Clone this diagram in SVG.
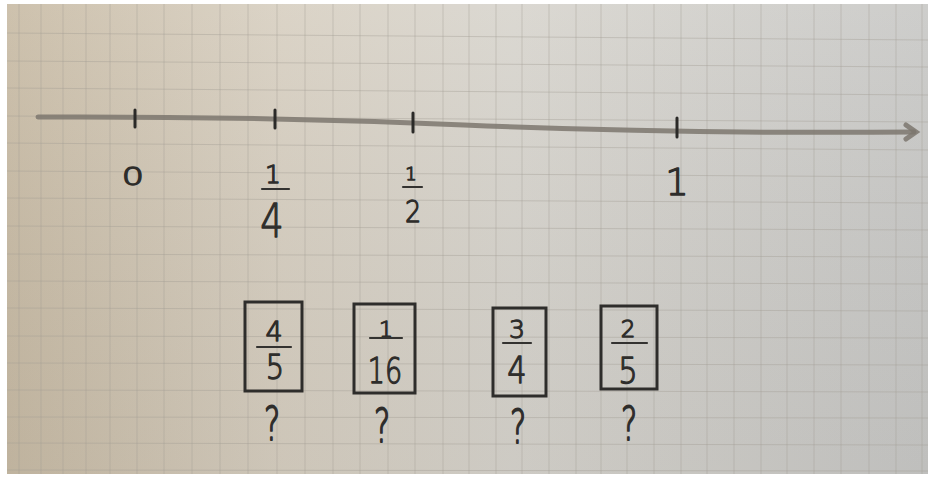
<svg xmlns="http://www.w3.org/2000/svg" width="928" height="483" viewBox="0 0 928 483">
<defs>
<linearGradient id="paper" x1="0" y1="0" x2="1" y2="0">
<stop offset="0" stop-color="#c9bca6"/>
<stop offset="0.3" stop-color="#d8d0c2"/>
<stop offset="0.55" stop-color="#d8d5ce"/>
<stop offset="1" stop-color="#c9c9c7"/>
</linearGradient>
<linearGradient id="shade" x1="0" y1="0" x2="0" y2="1">
<stop offset="0" stop-color="#ffffff" stop-opacity="0.08"/>
<stop offset="1" stop-color="#000000" stop-opacity="0.05"/>
</linearGradient>
<style>
.grid line{stroke:#a29d94;stroke-width:1;opacity:0.4}
.axis{stroke:#7d776f;stroke-width:5;fill:none;stroke-linecap:round;opacity:0.85}
.tick{stroke:#2b2a28;stroke-width:3;stroke-linecap:round}
.hw{font-family:"DejaVu Sans","Liberation Sans",sans-serif;font-weight:200;fill:#2e2d2b;stroke:#2e2d2b;stroke-width:1.3;stroke-linejoin:round;text-anchor:middle}
.bar{stroke:#333230;stroke-width:2.2;stroke-linecap:round}
.box{fill:none;stroke:#2e2d2b;stroke-width:3}
</style>
</defs>
<rect x="0" y="0" width="928" height="483" fill="#ffffff"/>
<rect x="7" y="4" width="921" height="470" fill="url(#paper)"/>
<rect x="7" y="4" width="921" height="470" fill="url(#shade)"/>
<g class="grid">
<line x1="19" y1="4" x2="19" y2="474"/>
<line x1="41" y1="4" x2="41" y2="474"/>
<line x1="63" y1="4" x2="63" y2="474"/>
<line x1="86" y1="4" x2="86" y2="474"/>
<line x1="110" y1="4" x2="110" y2="474"/>
<line x1="137" y1="4" x2="137" y2="474"/>
<line x1="164" y1="4" x2="164" y2="474"/>
<line x1="192" y1="4" x2="192" y2="474"/>
<line x1="220" y1="4" x2="220" y2="474"/>
<line x1="248" y1="4" x2="248" y2="474"/>
<line x1="277" y1="4" x2="277" y2="474"/>
<line x1="305" y1="4" x2="305" y2="474"/>
<line x1="333" y1="4" x2="333" y2="474"/>
<line x1="360" y1="4" x2="360" y2="474"/>
<line x1="388" y1="4" x2="388" y2="474"/>
<line x1="415" y1="4" x2="415" y2="474"/>
<line x1="443" y1="4" x2="443" y2="474"/>
<line x1="469" y1="4" x2="469" y2="474"/>
<line x1="496" y1="4" x2="496" y2="474"/>
<line x1="522" y1="4" x2="522" y2="474"/>
<line x1="549" y1="4" x2="549" y2="474"/>
<line x1="576" y1="4" x2="576" y2="474"/>
<line x1="601" y1="4" x2="601" y2="474"/>
<line x1="627" y1="4" x2="627" y2="474"/>
<line x1="654" y1="4" x2="654" y2="474"/>
<line x1="681" y1="4" x2="681" y2="474"/>
<line x1="707" y1="4" x2="707" y2="474"/>
<line x1="734" y1="4" x2="734" y2="474"/>
<line x1="761" y1="4" x2="761" y2="474"/>
<line x1="787" y1="4" x2="787" y2="474"/>
<line x1="814" y1="4" x2="814" y2="474"/>
<line x1="841" y1="4" x2="841" y2="474"/>
<line x1="869" y1="4" x2="869" y2="474"/>
<line x1="896" y1="4" x2="896" y2="474"/>
<line x1="922" y1="4" x2="922" y2="474"/>
<line x1="7" y1="33" x2="928" y2="40"/>
<line x1="7" y1="61" x2="928" y2="67"/>
<line x1="7" y1="88" x2="928" y2="95"/>
<line x1="7" y1="116" x2="928" y2="122"/>
<line x1="7" y1="143" x2="928" y2="150"/>
<line x1="7" y1="171" x2="928" y2="177"/>
<line x1="7" y1="198" x2="928" y2="203"/>
<line x1="7" y1="226" x2="928" y2="230"/>
<line x1="7" y1="254" x2="928" y2="257"/>
<line x1="7" y1="281" x2="928" y2="284"/>
<line x1="7" y1="308" x2="928" y2="311"/>
<line x1="7" y1="336" x2="928" y2="338"/>
<line x1="7" y1="363" x2="928" y2="365"/>
<line x1="7" y1="390" x2="928" y2="392"/>
<line x1="7" y1="417" x2="928" y2="418"/>
<line x1="7" y1="443" x2="928" y2="445"/>
<line x1="7" y1="470" x2="928" y2="471"/>
</g>
<g id="number-line">
<path class="axis" d="M38 117 Q 250 116 464 125 T 914 132"/>
<path class="axis" d="M906 125 L916 132 L906 139"/>
<line class="tick" x1="135" y1="110" x2="135" y2="127"/>
<line class="tick" x1="275" y1="110" x2="275" y2="128"/>
<line class="tick" x1="413" y1="113" x2="413" y2="132"/>
<line class="tick" x1="677" y1="118" x2="677" y2="137"/>
</g>
<g id="label-0"><text class="hw" transform="translate(133 185) scale(1.4 1)" font-size="25">0</text></g>
<g id="label-quarter">
<text class="hw" x="273" y="183" font-size="25">1</text>
<line class="bar" x1="262" y1="189" x2="289" y2="189"/>
<text class="hw" transform="translate(272 237) scale(0.8 1)" font-size="46">4</text>
</g>
<g id="label-half">
<text class="hw" x="411" y="180" font-size="18">1</text>
<line class="bar" x1="403" y1="187" x2="422" y2="187"/>
<text class="hw" transform="translate(413 222) scale(0.85 1)" font-size="30">2</text>
</g>
<g id="label-1"><text class="hw" x="677" y="195" font-size="37">1</text></g>
<g id="card-4-5">
<rect class="box" x="245" y="302" width="57" height="89"/>
<text class="hw" x="274" y="341" font-size="27">4</text>
<line class="bar" x1="257" y1="347" x2="291" y2="347"/>
<text class="hw" transform="translate(275 379) scale(0.85 1)" font-size="34">5</text>
<text class="hw" transform="translate(272 440) scale(0.9 1.35)" font-size="34">?</text>
</g>
<g id="card-1-16">
<rect class="box" x="354" y="304" width="61" height="89"/>
<text class="hw" x="386" y="337" font-size="22">1</text>
<line class="bar" x1="370" y1="338" x2="402" y2="338"/>
<text class="hw" transform="translate(385 383) scale(0.75 1)" font-size="36">16</text>
<text class="hw" transform="translate(382 442) scale(0.9 1.35)" font-size="34">?</text>
</g>
<g id="card-3-4">
<rect class="box" x="493" y="308" width="53" height="88"/>
<text class="hw" x="517" y="338" font-size="25">3</text>
<line class="bar" x1="503" y1="343" x2="531" y2="343"/>
<text class="hw" transform="translate(517 383) scale(0.8 1)" font-size="38">4</text>
<text class="hw" transform="translate(518 443) scale(0.9 1.35)" font-size="34">?</text>
</g>
<g id="card-2-5">
<rect class="box" x="601" y="306" width="56" height="83"/>
<text class="hw" x="628" y="337" font-size="23">2</text>
<line class="bar" x1="612" y1="343" x2="647" y2="343"/>
<text class="hw" transform="translate(628 383) scale(0.85 1)" font-size="36">5</text>
<text class="hw" transform="translate(629 440) scale(0.9 1.35)" font-size="34">?</text>
</g>
</svg>
